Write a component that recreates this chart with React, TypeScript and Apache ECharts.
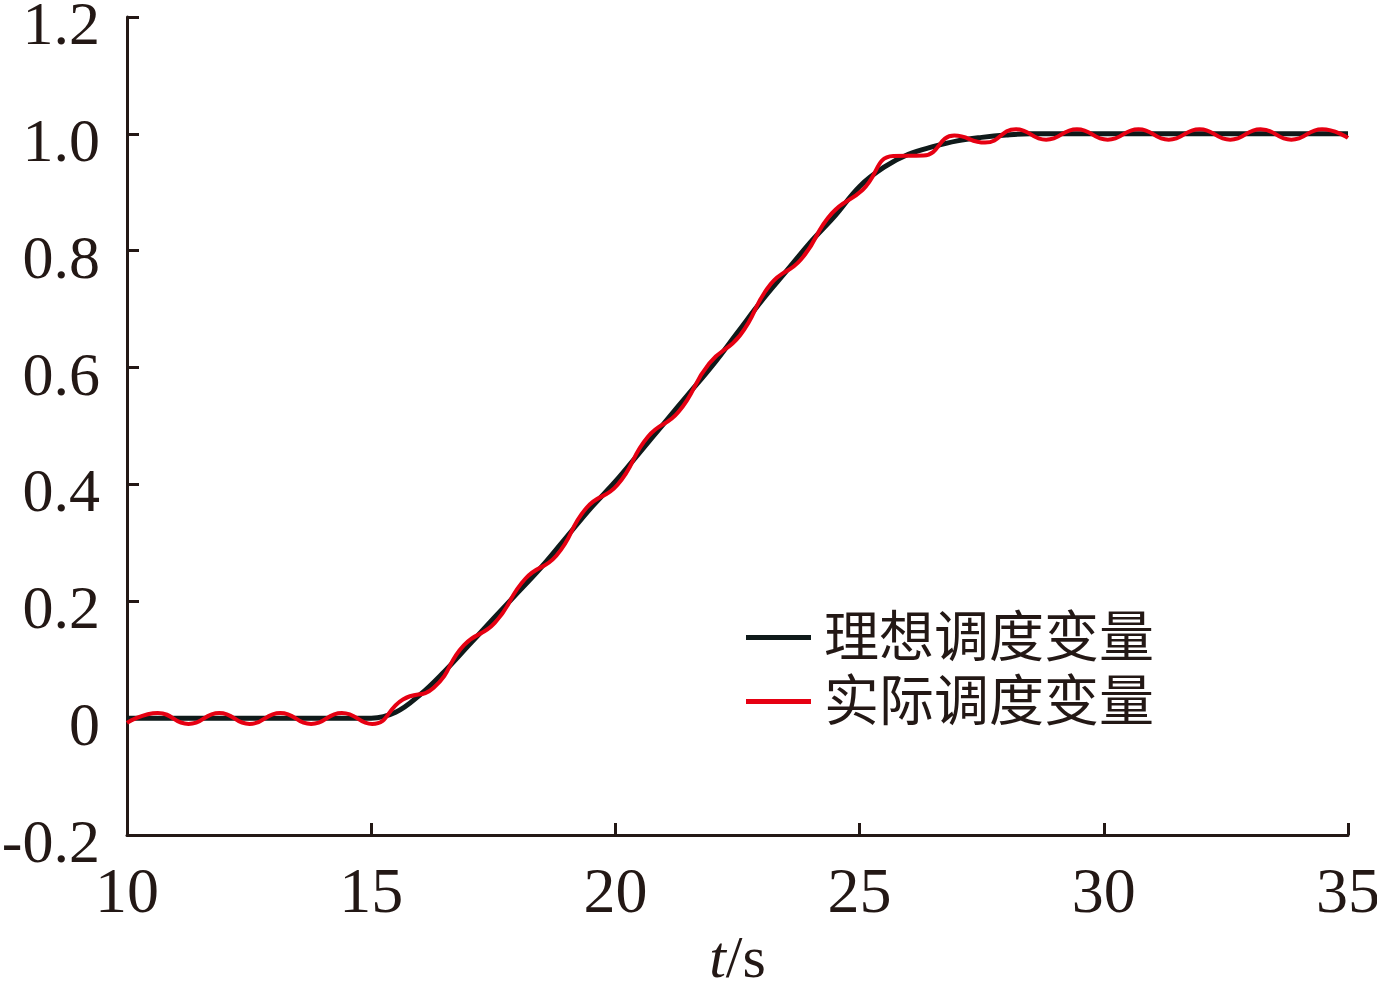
import React, { useEffect, useRef } from "react";
import * as echarts from "echarts";

const X_TICKS = [10, 15, 20, 25, 30, 35];
const Y_TICKS = [-0.2, 0, 0.2, 0.4, 0.6, 0.8, 1.0, 1.2];

const SERIES_NAMES = ["理想调度变量", "实际调度变量"];

const T_IDEAL = [10, 15, 15.5, 16, 16.5, 17, 17.5, 18, 18.5, 19, 19.5, 20, 20.5, 21, 21.5, 22, 22.5, 23, 23.5, 24, 24.5, 25, 25.5, 26, 26.5, 27, 27.5, 28, 28.5, 35];
const V_IDEAL = [0, 0, 0.01, 0.04, 0.08, 0.125, 0.17, 0.215, 0.26, 0.31, 0.36, 0.405, 0.455, 0.505, 0.555, 0.605, 0.66, 0.715, 0.765, 0.815, 0.86, 0.91, 0.943, 0.965, 0.978, 0.988, 0.994, 0.998, 1.0, 1.0];

const T_ACTUAL = [10, 10.63, 11.26, 11.89, 12.51, 13.14, 13.77, 14.4, 15.02, 15.65, 16.28, 16.9, 17.53, 18.16, 18.79, 19.41, 20.04, 20.67, 21.29, 21.92, 22.55, 23.18, 23.8, 24.43, 25.06, 25.69, 26.31, 26.94, 27.57, 28.2, 28.82, 29.45, 30.08, 30.71, 31.33, 31.96, 32.59, 33.21, 33.84, 34.47, 35];
const V_ACTUAL = [-0.008, 0.009, -0.01, 0.009, -0.01, 0.009, -0.01, 0.009, -0.01, 0.032, 0.052, 0.125, 0.163, 0.239, 0.278, 0.36, 0.399, 0.482, 0.524, 0.607, 0.655, 0.743, 0.785, 0.864, 0.904, 0.962, 0.963, 0.997, 0.985, 1.008, 0.99, 1.008, 0.99, 1.008, 0.99, 1.008, 0.99, 1.008, 0.99, 1.008, 0.993];

const AXIS_COLOR = "#231815";
const TEXT_COLOR = "#231815";
const SERIF = "'Liberation Serif', 'Times New Roman', serif";
const CJK = "'Liberation Serif', 'Noto Sans CJK SC', serif";
const IDEAL_COLOR = "#0f1a1a";
const ACTUAL_COLOR = "#e60012";

export default function App() {
  const ref = useRef<HTMLDivElement>(null);

  useEffect(() => {
    if (!ref.current) return;
    const chart = echarts.init(ref.current, undefined, { renderer: "svg" });
    const ideal = T_IDEAL.map((t, i) => [t, V_IDEAL[i]]);
    const actual = T_ACTUAL.map((t, i) => [t, V_ACTUAL[i]]);
    chart.setOption({
      animation: false,
      backgroundColor: "#ffffff",
      grid: { left: 127, right: 29, top: 17, bottom: 151, containLabel: false, outerBoundsMode: "none" },
      legend: {
        orient: "vertical",
        left: 741,
        top: 605,
        icon: "rect",
        itemWidth: 65,
        itemHeight: 5,
        itemGap: 9,
        data: [
          { name: SERIES_NAMES[0], itemStyle: { color: IDEAL_COLOR } },
          { name: SERIES_NAMES[1], itemStyle: { color: ACTUAL_COLOR } },
        ],
        textStyle: {
          fontFamily: CJK,
          fontSize: 55,
          lineHeight: 55,
          color: TEXT_COLOR,
          padding: [0, 0, 0, 8],
        },
      },
      xAxis: {
        type: "value",
        min: X_TICKS[0],
        max: X_TICKS[X_TICKS.length - 1],
        interval: 5,
        name: "{i|t}/s",
        nameLocation: "middle",
        nameGap: 90,
        nameTextStyle: {
          fontFamily: SERIF,
          fontSize: 60,
          lineHeight: 60,
          color: TEXT_COLOR,
          verticalAlign: "top",
          rich: { i: { fontFamily: SERIF, fontSize: 60, lineHeight: 60, fontStyle: "italic", color: TEXT_COLOR } },
        },
        axisLine: { show: true, onZero: false, lineStyle: { color: AXIS_COLOR, width: 3 } },
        axisTick: { show: true, inside: true, length: 12, lineStyle: { color: AXIS_COLOR, width: 3 } },
        axisLabel: {
          margin: 23,
          fontFamily: SERIF,
          fontSize: 64,
          color: TEXT_COLOR,
        },
        splitLine: { show: false },
      },
      yAxis: {
        type: "value",
        min: Y_TICKS[0],
        max: Y_TICKS[Y_TICKS.length - 1],
        interval: 0.2,
        axisLine: { show: true, onZero: false, lineStyle: { color: AXIS_COLOR, width: 3 } },
        axisTick: { show: true, inside: true, length: 12, lineStyle: { color: AXIS_COLOR, width: 3 } },
        axisLabel: {
          margin: 27,
          fontFamily: SERIF,
          fontSize: 62,
          color: TEXT_COLOR,
          verticalAlign: "middle",
          formatter: (v: number) => {
            const r = Math.round(v * 10) / 10;
            const s = r === 0 ? "0" : r.toFixed(1);
            return "{v|" + s + "}";
          },
          rich: {
            v: { fontFamily: SERIF, fontSize: 62, lineHeight: 62, color: TEXT_COLOR, padding: [12, 0, 0, 0] },
          },
        },
        splitLine: { show: false },
      },
      series: [
        {
          name: SERIES_NAMES[0],
          type: "line",
          data: ideal,
          smooth: 0.4,
          symbol: "none",
          lineStyle: { color: IDEAL_COLOR, width: 5 },
          itemStyle: { color: IDEAL_COLOR },
          z: 2,
        },
        {
          name: SERIES_NAMES[1],
          type: "line",
          data: actual,
          smooth: 0.5,
          symbol: "none",
          lineStyle: { color: ACTUAL_COLOR, width: 4 },
          itemStyle: { color: ACTUAL_COLOR },
          z: 3,
        },
      ],
    });
    return () => chart.dispose();
  }, []);

  return (
    <div
      ref={ref}
      style={{ position: "fixed", left: 0, top: 0, width: 1377, height: 986, background: "#fff" }}
    />
  );
}
